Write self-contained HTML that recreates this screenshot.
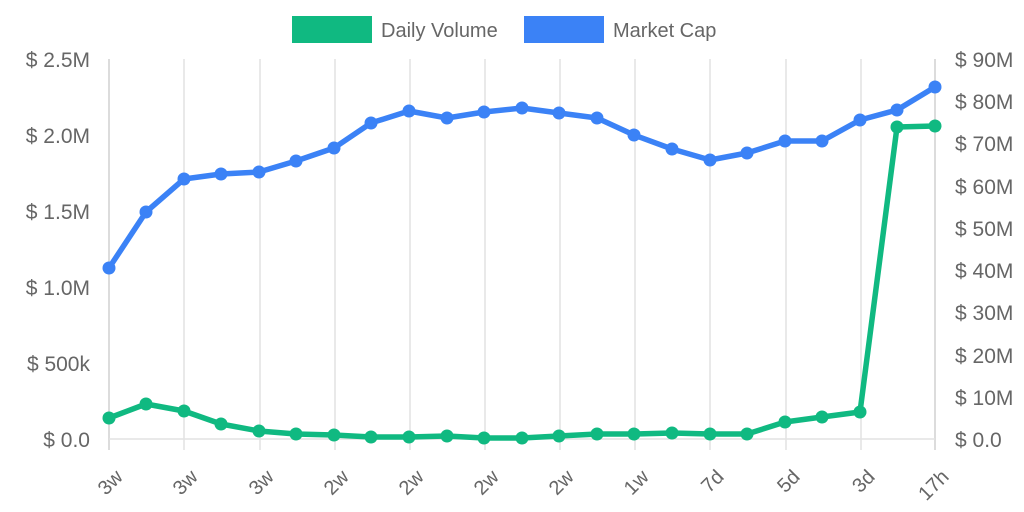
<!DOCTYPE html>
<html><head><style>body{margin:0;background:#fff}svg{display:block}text{font-family:"Liberation Sans",sans-serif;fill:#666}</style></head>
<body>
<svg width="1024" height="512" viewBox="0 0 1024 512" xmlns="http://www.w3.org/2000/svg">
<rect x="292" y="16" width="80" height="27" fill="#10b981"/>
<text x="381" y="37" font-size="20">Daily Volume</text>
<rect x="524" y="16" width="80" height="27" fill="#3b82f6"/>
<text x="613" y="37" font-size="20">Market Cap</text>
<g stroke="#e2e2e2" stroke-width="1.5">
<line x1="109" y1="59" x2="109" y2="450" stroke="#d0d0d0"/>
<line x1="184" y1="59" x2="184" y2="450"/><line x1="260" y1="59" x2="260" y2="450"/>
<line x1="335" y1="59" x2="335" y2="450"/><line x1="410" y1="59" x2="410" y2="450"/>
<line x1="485" y1="59" x2="485" y2="450"/><line x1="560" y1="59" x2="560" y2="450"/>
<line x1="635" y1="59" x2="635" y2="450"/><line x1="710" y1="59" x2="710" y2="450"/>
<line x1="786" y1="59" x2="786" y2="450"/><line x1="861" y1="59" x2="861" y2="450"/>
<line x1="935" y1="59" x2="935" y2="450" stroke="#d0d0d0"/>
<line x1="109" y1="439" x2="935" y2="439"/>
</g>
<g font-size="21" text-anchor="end">
<text x="90" y="67">$ 2.5M</text><text x="90" y="143">$ 2.0M</text><text x="90" y="219">$ 1.5M</text>
<text x="90" y="295">$ 1.0M</text><text x="90" y="371">$ 500k</text><text x="90" y="447">$ 0.0</text>
</g>
<g font-size="21">
<text x="955" y="67">$ 90M</text><text x="955" y="109">$ 80M</text><text x="955" y="151">$ 70M</text>
<text x="955" y="194">$ 60M</text><text x="955" y="236">$ 50M</text><text x="955" y="278">$ 40M</text>
<text x="955" y="320">$ 30M</text><text x="955" y="363">$ 20M</text><text x="955" y="405">$ 10M</text>
<text x="955" y="447">$ 0.0</text>
</g>
<g font-size="20" text-anchor="end">
<text transform="translate(124,478) rotate(-45)">3w</text>
<text transform="translate(199,478) rotate(-45)">3w</text>
<text transform="translate(275,478) rotate(-45)">3w</text>
<text transform="translate(350,478) rotate(-45)">2w</text>
<text transform="translate(425,478) rotate(-45)">2w</text>
<text transform="translate(500,478) rotate(-45)">2w</text>
<text transform="translate(575,478) rotate(-45)">2w</text>
<text transform="translate(650,478) rotate(-45)">1w</text>
<text transform="translate(725,478) rotate(-45)">7d</text>
<text transform="translate(801,478) rotate(-45)">5d</text>
<text transform="translate(876,478) rotate(-45)">3d</text>
<text transform="translate(950,478) rotate(-45)">17h</text>
</g>
<polyline fill="none" stroke="#3b82f6" stroke-width="5.5" stroke-linejoin="round" points="109,268 146,212 184,179 221,174 259,172 296,161 334,148 371,123 409,111 447,118 484,112 522,108 559,113 597,118 634,135 672,149 710,160 747,153 785,141 822,141 860,120 897,110 935,87"/>
<g fill="#3b82f6">
<circle cx="109" cy="268" r="6.5"/><circle cx="146" cy="212" r="6.5"/><circle cx="184" cy="179" r="6.5"/><circle cx="221" cy="174" r="6.5"/><circle cx="259" cy="172" r="6.5"/><circle cx="296" cy="161" r="6.5"/><circle cx="334" cy="148" r="6.5"/><circle cx="371" cy="123" r="6.5"/><circle cx="409" cy="111" r="6.5"/><circle cx="447" cy="118" r="6.5"/><circle cx="484" cy="112" r="6.5"/><circle cx="522" cy="108" r="6.5"/><circle cx="559" cy="113" r="6.5"/><circle cx="597" cy="118" r="6.5"/><circle cx="634" cy="135" r="6.5"/><circle cx="672" cy="149" r="6.5"/><circle cx="710" cy="160" r="6.5"/><circle cx="747" cy="153" r="6.5"/><circle cx="785" cy="141" r="6.5"/><circle cx="822" cy="141" r="6.5"/><circle cx="860" cy="120" r="6.5"/><circle cx="897" cy="110" r="6.5"/><circle cx="935" cy="87" r="6.5"/>
</g>
<polyline fill="none" stroke="#10b981" stroke-width="5.5" stroke-linejoin="round" points="109,418 146,404 184,411 221,424 259,431 296,434 334,435 371,437 409,437 447,436 484,438 522,438 559,436 597,434 634,434 672,433 710,434 747,434 785,422 822,417 860,412 897,127 935,126"/>
<g fill="#10b981">
<circle cx="109" cy="418" r="6.5"/><circle cx="146" cy="404" r="6.5"/><circle cx="184" cy="411" r="6.5"/><circle cx="221" cy="424" r="6.5"/><circle cx="259" cy="431" r="6.5"/><circle cx="296" cy="434" r="6.5"/><circle cx="334" cy="435" r="6.5"/><circle cx="371" cy="437" r="6.5"/><circle cx="409" cy="437" r="6.5"/><circle cx="447" cy="436" r="6.5"/><circle cx="484" cy="438" r="6.5"/><circle cx="522" cy="438" r="6.5"/><circle cx="559" cy="436" r="6.5"/><circle cx="597" cy="434" r="6.5"/><circle cx="634" cy="434" r="6.5"/><circle cx="672" cy="433" r="6.5"/><circle cx="710" cy="434" r="6.5"/><circle cx="747" cy="434" r="6.5"/><circle cx="785" cy="422" r="6.5"/><circle cx="822" cy="417" r="6.5"/><circle cx="860" cy="412" r="6.5"/><circle cx="897" cy="127" r="6.5"/><circle cx="935" cy="126" r="6.5"/>
</g>
</svg>
</body></html>
